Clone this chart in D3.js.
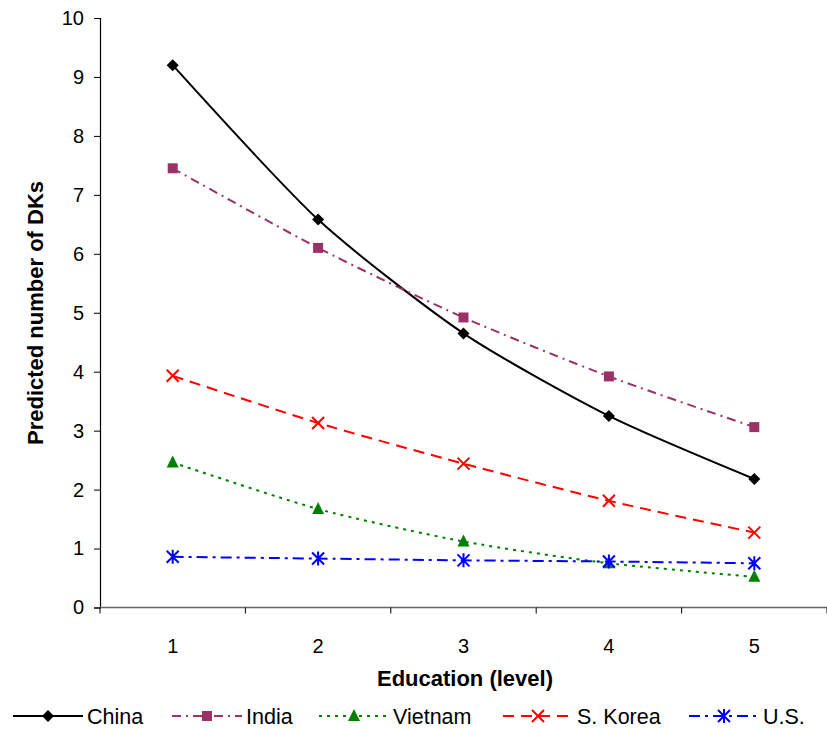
<!DOCTYPE html>
<html>
<head>
<meta charset="utf-8">
<script src="https://cdn.jsdelivr.net/npm/d3@7"></script>
<style>
  html, body { margin: 0; padding: 0; background: #fff; }
  svg { display: block; }
</style>
</head>
<body>
<svg id="chart" width="827" height="729"></svg>
<script>
// Education levels and predicted number of "don't know" answers by country
const levels = [1, 2, 3, 4, 5];
const china   = [9.20, 6.58, 4.65, 3.25, 2.18];
const india   = [7.45, 6.10, 4.92, 3.92, 3.06];
const vietnam = [2.46, 1.67, 1.12, 0.75, 0.52];
const korea   = [3.93, 3.13, 2.44, 1.81, 1.27];
const us      = [0.86, 0.83, 0.80, 0.78, 0.75];
const yTicks  = [0, 1, 2, 3, 4, 5, 6, 7, 8, 9, 10];

const seriesList = [
  { name: "China",     values: china,   color: "#000000", dash: null,         marker: "diamond" },
  { name: "India",     values: india,   color: "#993366", dash: "9,5,2,5",    marker: "square" },
  { name: "Vietnam",   values: vietnam, color: "#008000", dash: "3,5",        marker: "triangle" },
  { name: "S. Korea",  values: korea,   color: "#FF0000", dash: "11,7",       marker: "x" },
  { name: "U.S.",      values: us,      color: "#0000FF", dash: "11,5,3,5",   marker: "asterisk" }
];

const FONT = "Liberation Sans, Arial, sans-serif";
const svg = d3.select("#chart");
const plotLeft = 100, plotRight = 827, plotTop = 18, plotBottom = 607.5;

const x = d3.scaleBand().domain(levels).range([plotLeft, plotRight]);
const y = d3.scaleLinear().domain([0, 10]).range([plotBottom, plotTop]);
const cx = d => x(d) + x.bandwidth() / 2;

// Y axis
const yAxis = svg.append("g").attr("transform", `translate(${plotLeft},0)`)
  .call(d3.axisLeft(y).tickValues(yTicks).tickSize(6).tickPadding(10));
yAxis.select(".domain").attr("stroke", "#000").attr("stroke-width", 1.2);
yAxis.selectAll(".tick line").attr("stroke", "#000");
yAxis.selectAll("text").attr("font-family", FONT)
  .attr("font-size", 20).attr("fill", "#000");

// X axis: ticks sit on the category boundaries, labels in the middle
const xAxisG = svg.append("g").attr("transform", `translate(0,${plotBottom})`);
xAxisG.append("line").attr("x1", plotLeft).attr("x2", plotRight).attr("y1", 0).attr("y2", 0)
  .attr("stroke", "#666").attr("stroke-width", 1.5);
const bounds = levels.map(d => x(d)).concat([x(levels[levels.length - 1]) + x.bandwidth()]);
xAxisG.selectAll("line.tk").data(bounds).join("line").attr("class", "tk")
  .attr("x1", d => d).attr("x2", d => d).attr("y1", 0).attr("y2", 6)
  .attr("stroke", "#000");
xAxisG.selectAll("text").data(levels).join("text")
  .attr("x", d => cx(d)).attr("y", 45)
  .attr("text-anchor", "middle")
  .attr("font-family", FONT).attr("font-size", 20)
  .text(d => d);

// Axis titles
svg.append("text").attr("x", 465).attr("y", 686).attr("text-anchor", "middle")
  .attr("font-family", FONT).attr("font-size", 22)
  .attr("font-weight", "bold").text("Education (level)");
svg.append("text").attr("transform", "translate(43,313) rotate(-90)")
  .attr("text-anchor", "middle")
  .attr("font-family", FONT).attr("font-size", 22)
  .attr("font-weight", "bold").text("Predicted number of DKs");

// Marker drawing
function drawMarker(g, type, color, px, py) {
  if (type === "diamond") {
    g.append("path").attr("d", `M${px},${py - 6}L${px + 6},${py}L${px},${py + 6}L${px - 6},${py}Z`)
      .attr("fill", color);
  } else if (type === "square") {
    g.append("rect").attr("x", px - 5).attr("y", py - 5).attr("width", 10).attr("height", 10)
      .attr("fill", color);
  } else if (type === "triangle") {
    g.append("path").attr("d", `M${px},${py - 7}L${px + 6},${py + 5}L${px - 6},${py + 5}Z`)
      .attr("fill", color);
  } else if (type === "x") {
    g.append("path").attr("d", `M${px - 6},${py - 6}L${px + 6},${py + 6}M${px - 6},${py + 6}L${px + 6},${py - 6}`)
      .attr("stroke", color).attr("stroke-width", 2).attr("fill", "none");
  } else if (type === "asterisk") {
    g.append("path").attr("d", `M${px - 6},${py - 6}L${px + 6},${py + 6}M${px - 6},${py + 6}L${px + 6},${py - 6}M${px},${py - 7}L${px},${py + 7}`)
      .attr("stroke", color).attr("stroke-width", 2).attr("fill", "none");
  }
}

const line = d3.line().x(d => cx(d.level)).y(d => y(d.value)).curve(d3.curveCardinal.tension(0.3));

const plot = svg.append("g");
seriesList.forEach(s => {
  const pts = levels.map((l, i) => ({ level: l, value: s.values[i] }));
  plot.append("path").datum(pts).attr("d", line)
    .attr("fill", "none").attr("stroke", s.color).attr("stroke-width", 2)
    .attr("stroke-dasharray", s.dash);
  const mg = plot.append("g");
  pts.forEach(p => drawMarker(mg, s.marker, s.color, cx(p.level), y(p.value)));
});

// Legend: sample line with marker, then the series name
const legendLineX = [13, 172, 319, 503, 689];
const legendLineW = 70;
const legendY = 716;
const legend = svg.append("g");
seriesList.forEach((s, i) => {
  const lx = legendLineX[i];
  legend.append("line").attr("x1", lx).attr("x2", lx + legendLineW).attr("y1", legendY).attr("y2", legendY)
    .attr("stroke", s.color).attr("stroke-width", 2).attr("stroke-dasharray", s.dash);
  drawMarker(legend, s.marker, s.color, lx + legendLineW / 2, legendY);
  legend.append("text").attr("x", lx + legendLineW + 4).attr("y", legendY + 7.5)
    .attr("font-family", FONT).attr("font-size", 21.5)
    .text(s.name);
});
</script>
</body>
</html>
